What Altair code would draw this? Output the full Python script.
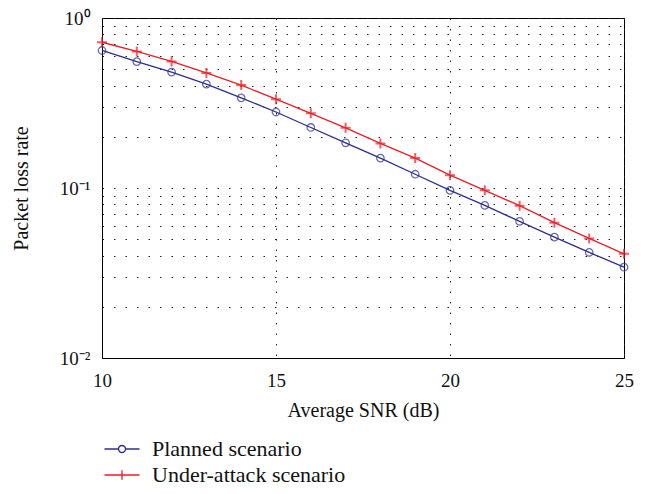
import altair as alt
import pandas as pd

snr = list(range(10, 26))
planned = [0.644, 0.554, 0.481, 0.408, 0.339, 0.280, 0.227, 0.1845, 0.150,
           0.1205, 0.0969, 0.0790, 0.0636, 0.0514, 0.0418, 0.0342]
attack = [0.720, 0.636, 0.555, 0.475, 0.403, 0.333, 0.275, 0.226, 0.183,
          0.150, 0.119, 0.0969, 0.0787, 0.0625, 0.0505, 0.041]
series_names = ["Planned scenario", "Under-attack scenario"]
colors = ["#2B2F8F", "#EE1C25"]

rows = []
for s, p, a in zip(snr, planned, attack):
    rows.append({"SNR": s, "Rate": p, "Series": series_names[0]})
    rows.append({"SNR": s, "Rate": a, "Series": series_names[1]})
df = pd.DataFrame(rows)

y_ticks = [0.01, 0.02, 0.03, 0.04, 0.05, 0.06, 0.07, 0.08, 0.09,
           0.1, 0.2, 0.3, 0.4, 0.5, 0.6, 0.7, 0.8, 0.9, 1]

FONT = "Liberation Serif"

x_enc = alt.X("SNR:Q", scale=alt.Scale(domain=[10, 25], nice=False),
              axis=alt.Axis(values=[10, 15, 20, 25], title="Average SNR (dB)",
                            grid=True, gridDash=[1.5, 9], gridColor="#222",
                            gridWidth=1, ticks=False, labelPadding=13,
                            titlePadding=10, labelFlush=False))
y_enc = alt.Y("Rate:Q", scale=alt.Scale(type="log", domain=[0.01, 1], nice=False),
              axis=alt.Axis(values=y_ticks, title="Packet loss rate",
                            grid=True, gridDash=[1.5, 10], gridColor="#222",
                            gridWidth=1, ticks=False, labelPadding=12,
                            titleX=-71,
                            labelExpr="datum.value == 1 ? '10⁰' : (abs(datum.value - 0.1) < 1e-9 ? '10⁻¹' : (abs(datum.value - 0.01) < 1e-9 ? '10⁻²' : ''))"))
color_scale = alt.Scale(domain=series_names, range=colors)

legend_paths = [
    "M-2,0L-0.4,0M0.4,0L2,0M-0.4,0A0.4,0.4 0 1,0 0.4,0A0.4,0.4 0 1,0 -0.4,0",
    "M-2,0L2,0M0,-0.55L0,0.55",
]
legend_y = [420, 446]


def make_legend(i):
    return alt.Legend(title=None, orient="none", legendX=9, legendY=legend_y[i],
                      symbolSize=306, labelFont=FONT, labelFontSize=22,
                      labelColor="#111", labelOffset=19, labelLimit=400,
                      symbolStrokeWidth=1.3, symbolFillColor="transparent",
                      symbolStrokeColor=colors[i], padding=0)


base = alt.Chart(df)

lines = base.mark_line(strokeWidth=1.3).encode(
    x=x_enc, y=y_enc,
    stroke=alt.Stroke("Series:N", scale=color_scale, legend=None),
    detail="Series:N",
)

circles = base.transform_filter(
    alt.datum.Series == series_names[0]
).mark_point(shape="circle", filled=False, size=56, strokeWidth=1.3).encode(
    x=x_enc, y=y_enc,
    stroke=alt.Stroke("Series:N", scale=color_scale, legend=None),
)

pluses = base.transform_filter(
    alt.datum.Series == series_names[1]
).mark_point(shape="M-1,0L1,0M0,-1L0,1", filled=False, size=100, strokeWidth=2).encode(
    x=x_enc, y=y_enc,
    stroke=alt.Stroke("Series:N", scale=color_scale, legend=None),
)


def legend_layer(i):
    return base.transform_filter(
        alt.datum.Series == series_names[i]
    ).mark_point(filled=False, strokeWidth=1.3, opacity=0).encode(
        x=x_enc, y=y_enc,
        shape=alt.Shape("Series:N",
                        scale=alt.Scale(domain=[series_names[i]], range=[legend_paths[i]]),
                        legend=make_legend(i)),
    )


chart = alt.layer(lines, circles, pluses, legend_layer(0), legend_layer(1)).resolve_scale(
    shape="independent"
).resolve_legend(
    shape="independent"
).properties(
    width=522, height=340,
    autosize=alt.AutoSizeParams(type="none"),
    padding={"left": 94, "top": 10, "right": 21, "bottom": 128},
    background="white",
).configure_view(
    stroke="black", strokeWidth=1
).configure_axis(
    labelFont=FONT, labelFontSize=19, labelColor="#111",
    titleFont=FONT, titleFontSize=20, titleFontWeight="normal", titleColor="#111",
    domainColor="black", domainWidth=1,
)

chart.save("out.html", embed_options={"renderer": "svg", "actions": False})
